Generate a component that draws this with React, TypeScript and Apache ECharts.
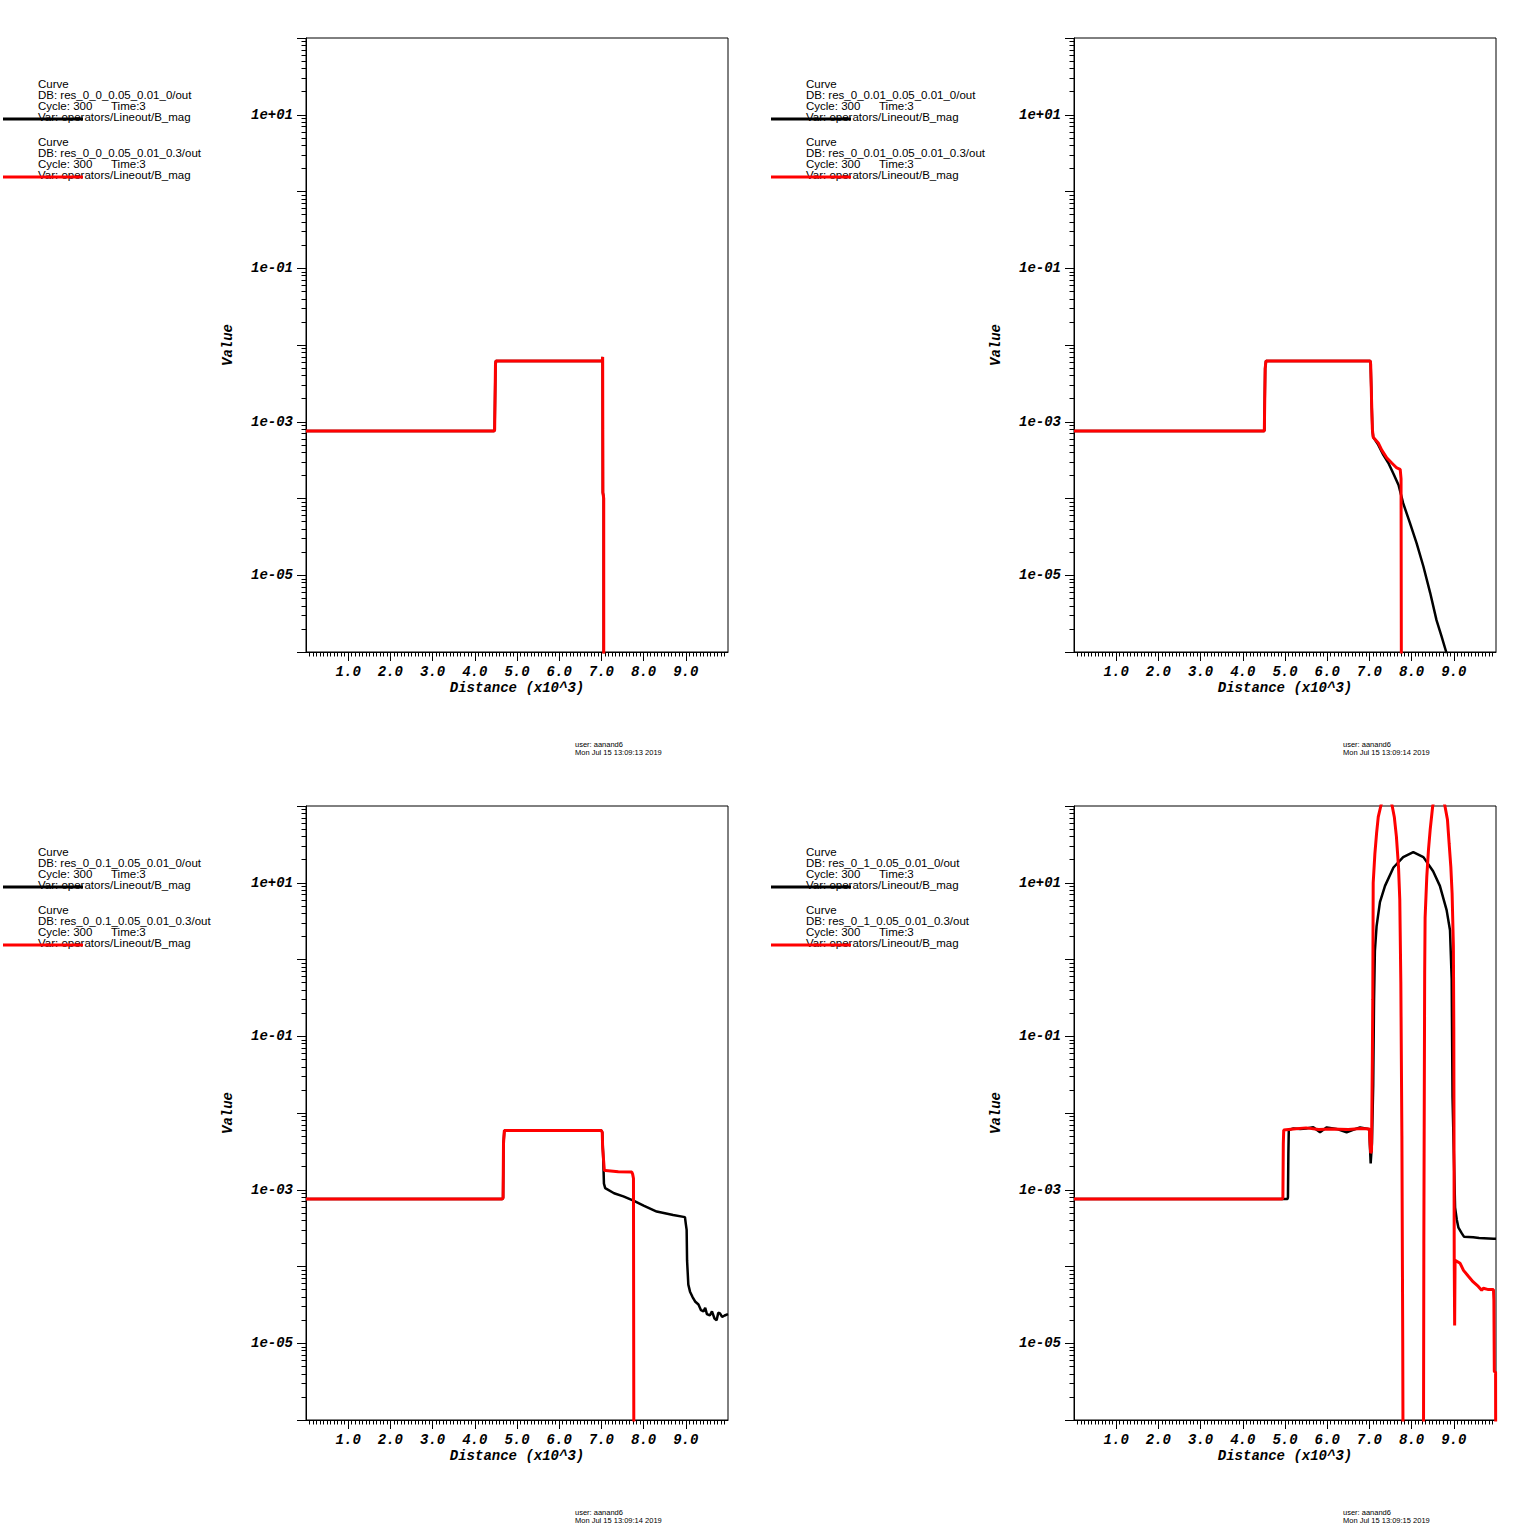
import React, { useEffect, useRef } from 'react';
import * as echarts from 'echarts';

// ---------- tick / label values ----------
const xMajorTicks = [1, 2, 3, 4, 5, 6, 7, 8, 9];
const xMinorPerUnit = 12;
const yDecades = [-6, -5, -4, -3, -2, -1, 0, 1, 2];
const yLabelDecades = [-5, -3, -1, 1];
const yMinorMantissas = [2, 3, 4, 5, 6, 7, 8, 9];

// ---------- legend / annotation text ----------
const dbNames = [
  ['res_0_0_0.05_0.01_0/out', 'res_0_0_0.05_0.01_0.3/out'],
  ['res_0_0.01_0.05_0.01_0/out', 'res_0_0.01_0.05_0.01_0.3/out'],
  ['res_0_0.1_0.05_0.01_0/out', 'res_0_0.1_0.05_0.01_0.3/out'],
  ['res_0_1_0.05_0.01_0/out', 'res_0_1_0.05_0.01_0.3/out'],
];
const stampTimes = [
  'Mon Jul 15 13:09:13 2019',
  'Mon Jul 15 13:09:14 2019',
  'Mon Jul 15 13:09:14 2019',
  'Mon Jul 15 13:09:15 2019',
];
const stampUser = 'user: aanand6';
const varName = 'Var: operators/Lineout/B_mag';
const cycleText = 'Cycle: 300';
const timeText = 'Time:3';
const xName = 'Distance (x10^3)';
const yName = 'Value';

// ---------- data: [distance (x10^3), B_mag] ----------
const p1Black = [
  [0, 7.6e-4], [4.46, 7.6e-4], [4.47, 7.8e-4], [4.49, 5.6e-3], [4.5, 6.2e-3],
  [7.02, 6.2e-3], [7.03, 7.0e-3], [7.035, 1.2e-4], [7.055, 1.0e-4], [7.056, 1e-7],
];
const p1Red = [
  [0, 7.6e-4], [4.46, 7.6e-4], [4.47, 7.8e-4], [4.49, 5.6e-3], [4.5, 6.2e-3],
  [7.02, 6.2e-3], [7.03, 7.0e-3], [7.035, 1.2e-4], [7.055, 1.0e-4], [7.056, 1e-7],
];

const p2Black = [
  [0, 7.6e-4], [4.51, 7.6e-4], [4.53, 5.0e-3], [4.55, 6.2e-3], [7.02, 6.2e-3],
  [7.03, 5.6e-3], [7.05, 2.0e-3], [7.07, 8.0e-4], [7.09, 6.3e-4], [7.21, 5.0e-4],
  [7.33, 3.7e-4], [7.45, 2.9e-4], [7.57, 2.1e-4], [7.69, 1.5e-4], [7.8, 8.7e-5],
  [7.96, 4.8e-5], [8.12, 2.6e-5], [8.28, 1.3e-5], [8.44, 5.9e-6], [8.59, 2.6e-6],
  [8.71, 1.6e-6], [8.82, 1.0e-6], [8.9, 5e-7],
];
const p2Red = [
  [0, 7.6e-4], [4.51, 7.6e-4], [4.53, 5.0e-3], [4.55, 6.2e-3], [7.02, 6.2e-3],
  [7.03, 5.6e-3], [7.05, 2.0e-3], [7.07, 8.0e-4], [7.09, 6.3e-4], [7.21, 5.3e-4],
  [7.29, 4.3e-4], [7.41, 3.4e-4], [7.53, 2.9e-4], [7.65, 2.5e-4], [7.73, 2.4e-4],
  [7.75, 1.8e-4], [7.76, 1e-7],
];

const p3Black = [
  [0, 7.6e-4], [4.65, 7.6e-4], [4.67, 7.8e-4], [4.68, 4.0e-3], [4.7, 5.9e-3],
  [7.0, 5.9e-3], [7.02, 5.6e-3], [7.04, 3.0e-3], [7.06, 1.2e-3], [7.09, 1.05e-3],
  [7.3, 9.0e-4], [7.52, 8.2e-4], [7.76, 7.2e-4], [8.0, 6.2e-4], [8.31, 5.2e-4],
  [8.7, 4.7e-4], [8.98, 4.4e-4], [9.0, 3.6e-4], [9.02, 3.0e-4], [9.03, 1.2e-4],
  [9.06, 5.8e-5], [9.1, 4.7e-5], [9.16, 4.0e-5], [9.22, 3.5e-5], [9.3, 3.2e-5],
  [9.36, 2.7e-5], [9.42, 2.6e-5], [9.46, 2.9e-5], [9.5, 2.4e-5], [9.57, 2.3e-5],
  [9.62, 2.6e-5], [9.68, 2.1e-5], [9.73, 2.0e-5], [9.77, 2.5e-5], [9.81, 2.45e-5],
  [9.86, 2.2e-5], [9.92, 2.3e-5], [10.0, 2.4e-5],
];
const p3Red = [
  [0, 7.6e-4], [4.65, 7.6e-4], [4.67, 7.8e-4], [4.68, 4.0e-3], [4.7, 5.9e-3],
  [7.0, 5.9e-3], [7.02, 5.6e-3], [7.03, 3.5e-3], [7.07, 1.78e-3], [7.1, 1.78e-3],
  [7.4, 1.72e-3], [7.72, 1.7e-3], [7.74, 1.6e-3], [7.76, 1.4e-3], [7.77, 1e-7],
];

const p4Black = [
  [0, 7.6e-4], [5.06, 7.6e-4], [5.07, 8.0e-4], [5.08, 3.0e-3], [5.09, 6.0e-3],
  [5.2, 6.3e-3], [5.36, 6.2e-3], [5.5, 6.3e-3], [5.67, 6.5e-3], [5.83, 5.6e-3],
  [5.99, 6.5e-3], [6.22, 6.2e-3], [6.46, 5.6e-3], [6.6, 6.0e-3], [6.78, 6.5e-3],
  [6.97, 6.2e-3], [7.0, 6.0e-3], [7.01, 4.0e-3], [7.03, 2.2e-3], [7.06, 4.0e-3],
  [7.09, 0.023], [7.11, 0.3], [7.13, 1.29], [7.17, 2.7], [7.25, 5.6], [7.37, 9.1],
  [7.57, 15.8], [7.8, 21.6], [8.04, 25.1], [8.28, 21.6], [8.51, 14.1], [8.67, 9.1],
  [8.83, 4.4], [8.91, 2.4], [8.95, 0.55], [8.97, 0.016], [9.03, 5.9e-4],
  [9.07, 4.1e-4], [9.11, 3.2e-4], [9.19, 2.7e-4], [9.24, 2.45e-4], [9.46, 2.4e-4],
  [9.6, 2.35e-4], [9.94, 2.3e-4], [10.0, 2.3e-4],
];
const p4Red = [
  [0, 7.6e-4], [4.94, 7.6e-4], [4.95, 8.0e-4], [4.96, 4.0e-3], [4.97, 6.0e-3],
  [5.2, 6.2e-3], [5.5, 6.4e-3], [5.8, 6.1e-3], [6.1, 6.2e-3], [6.5, 6.1e-3],
  [6.8, 6.3e-3], [7.0, 6.2e-3], [7.01, 4.5e-3], [7.03, 3.0e-3], [7.05, 3.2e-3],
  [7.07, 0.05], [7.08, 0.3], [7.09, 10], [7.13, 24], [7.17, 44], [7.21, 72],
  [7.27, 100], [7.34, 140], [7.41, 165], [7.48, 140], [7.54, 100], [7.59, 72],
  [7.64, 40], [7.69, 16], [7.72, 6], [7.745, 0.5], [7.77, 5e-3], [7.79, 1e-5],
  [7.8, 1e-7], [8.28, 1e-7], [8.29, 2e-4], [8.31, 0.7], [8.32, 3.5], [8.36, 12],
  [8.4, 27], [8.44, 49], [8.5, 100], [8.57, 145], [8.645, 170], [8.72, 145],
  [8.79, 100], [8.85, 66], [8.89, 32], [8.93, 16], [8.96, 7.2], [8.99, 1.5],
  [9.0, 0.13], [9.01, 1.3e-4], [9.02, 1.7e-5], [9.03, 1.2e-4], [9.04, 1.2e-4],
  [9.15, 1.1e-4], [9.23, 8.9e-5], [9.35, 7.4e-5], [9.46, 6.3e-5], [9.58, 5.5e-5],
  [9.66, 4.9e-5], [9.7, 5.2e-5], [9.82, 5.0e-5], [9.94, 5.0e-5], [9.95, 3.6e-5],
  [9.96, 4.3e-6], [9.99, 4.2e-6], [9.995, 1e-7],
];

const panelSeries = [
  [p1Black, p1Red],
  [p2Black, p2Red],
  [p3Black, p3Red],
  [p4Black, p4Red],
];

// ---------- layout ----------
const panelOffsets = [[0, 0], [768, 0], [0, 768], [768, 768]];
const PLOT_L = 306, PLOT_T = 38, PLOT_W = 422, PLOT_H = 614;

const monoFont = {
  fontFamily: 'Liberation Mono',
  fontWeight: 'bold' as const,
  fontStyle: 'italic' as const,
  fontSize: 14,
  color: '#000',
};
const LEGEND_FONT = 'Liberation Sans';
const LEGEND_SIZE = 11.5;

function buildOption() {
  const xMinor: number[] = [];
  for (let k = 1; k < 10 * xMinorPerUnit; k++) {
    if (k % xMinorPerUnit !== 0) xMinor.push(k / xMinorPerUnit);
  }
  const yMinor: number[] = [];
  for (let d = -6; d < 2; d++) {
    for (const m of yMinorMantissas) yMinor.push(d + Math.log10(m));
  }
  const fmtY = (v: number) => {
    const r = Math.round(v);
    const a = Math.abs(r);
    return '1e' + (r >= 0 ? '+' : '-') + (a < 10 ? '0' + a : '' + a);
  };

  const grids: any[] = [];
  const xAxes: any[] = [];
  const yAxes: any[] = [];
  const series: any[] = [];
  const graphics: any[] = [];

  panelOffsets.forEach(([ox, oy], i) => {
    grids.push({
      left: ox + PLOT_L, top: oy + PLOT_T, width: PLOT_W, height: PLOT_H,
      show: true, borderColor: '#000', borderWidth: 1,
      backgroundColor: 'transparent', containLabel: false, outerBoundsMode: 'none',
    });
    xAxes.push({
      type: 'value', gridIndex: i, position: 'bottom', min: 0, max: 10,
      name: xName, nameLocation: 'middle', nameGap: 29, nameMoveOverlap: false,
      nameTextStyle: { ...monoFont },
      axisLine: { show: true, onZero: false, lineStyle: { color: '#000', width: 1 } },
      axisTick: { show: true, customValues: xMajorTicks, length: 9, lineStyle: { color: '#000', width: 1 } },
      axisLabel: { show: true, customValues: xMajorTicks, margin: 13, formatter: (v: number) => v.toFixed(1), ...monoFont },
      splitLine: { show: false },
    });
    xAxes.push({
      type: 'value', gridIndex: i, position: 'bottom', min: 0, max: 10,
      axisLine: { show: false, onZero: false },
      axisTick: { show: true, customValues: xMinor, length: 4.5, lineStyle: { color: '#000', width: 1 } },
      axisLabel: { show: false },
      splitLine: { show: false },
    });
    yAxes.push({
      type: 'value', gridIndex: i, position: 'left', min: -6, max: 2,
      name: yName, nameLocation: 'middle', nameGap: 71, nameRotate: 90, nameMoveOverlap: false,
      nameTextStyle: { ...monoFont },
      axisLine: { show: true, onZero: false, lineStyle: { color: '#000', width: 1 } },
      axisTick: { show: true, customValues: yDecades, length: 9, lineStyle: { color: '#000', width: 1 } },
      axisLabel: { show: true, customValues: yLabelDecades, margin: 13, formatter: fmtY, ...monoFont },
      splitLine: { show: false },
    });
    yAxes.push({
      type: 'value', gridIndex: i, position: 'left', min: -6, max: 2,
      axisLine: { show: false, onZero: false },
      axisTick: { show: true, customValues: yMinor, length: 4.5, lineStyle: { color: '#000', width: 1 } },
      axisLabel: { show: false },
      splitLine: { show: false },
    });

    const [blk, red] = panelSeries[i];
    const toLog = (arr: number[][]) => arr.map(([x, v]) => [x, Math.log10(v)]);
    series.push({
      type: 'line', xAxisIndex: 2 * i, yAxisIndex: 2 * i, data: toLog(blk),
      showSymbol: false, symbol: 'none', clip: true, z: 3,
      lineStyle: { color: '#000', width: 2.5 },
    });
    series.push({
      type: 'line', xAxisIndex: 2 * i, yAxisIndex: 2 * i, data: toLog(red),
      showSymbol: false, symbol: 'none', clip: true, z: 4,
      lineStyle: { color: '#ff0000', width: 3 },
    });

    // legend blocks
    const legendColors = ['#000', '#ff0000'];
    [0, 1].forEach((j) => {
      const by = oy + 84 + j * 58;
      const tx = ox + 38;
      const txt = (text: string, x: number, y: number) => ({
        type: 'text', x, y, z: 5,
        style: { text, fontSize: LEGEND_SIZE, fontFamily: LEGEND_FONT, fill: '#000', align: 'left', verticalAlign: 'middle' },
      });
      graphics.push(txt('Curve', tx, by));
      graphics.push(txt('DB: ' + dbNames[i][j], tx, by + 11));
      graphics.push(txt(cycleText, tx, by + 22));
      graphics.push(txt(timeText, tx + 73, by + 22));
      graphics.push(txt(varName, tx, by + 33));
      graphics.push({
        type: 'line', z: 10,
        shape: { x1: ox + 3, y1: by + 35, x2: ox + 83, y2: by + 35 },
        style: { stroke: legendColors[j], lineWidth: 3 },
      });
    });

    // user / date stamp
    const sx = ox + 575;
    graphics.push({
      type: 'text', x: sx, y: oy + 744, z: 5,
      style: { text: stampUser, fontSize: 7.5, fontFamily: 'Liberation Sans', fill: '#000', align: 'left', verticalAlign: 'middle' },
    });
    graphics.push({
      type: 'text', x: sx, y: oy + 752, z: 5,
      style: { text: stampTimes[i], fontSize: 7.5, fontFamily: 'Liberation Sans', fill: '#000', align: 'left', verticalAlign: 'middle' },
    });
  });

  return {
    animation: false,
    backgroundColor: '#fff',
    grid: grids,
    xAxis: xAxes,
    yAxis: yAxes,
    series,
    graphic: graphics,
  };
}

export default function App() {
  const ref = useRef<HTMLDivElement>(null);
  useEffect(() => {
    if (!ref.current) return;
    const chart = echarts.init(ref.current, undefined, { renderer: 'svg' });
    chart.setOption(buildOption() as any);
    return () => chart.dispose();
  }, []);
  return (
    <div
      ref={ref}
      style={{ position: 'absolute', left: 0, top: 0, width: 1536, height: 1536, background: '#fff' }}
    />
  );
}
